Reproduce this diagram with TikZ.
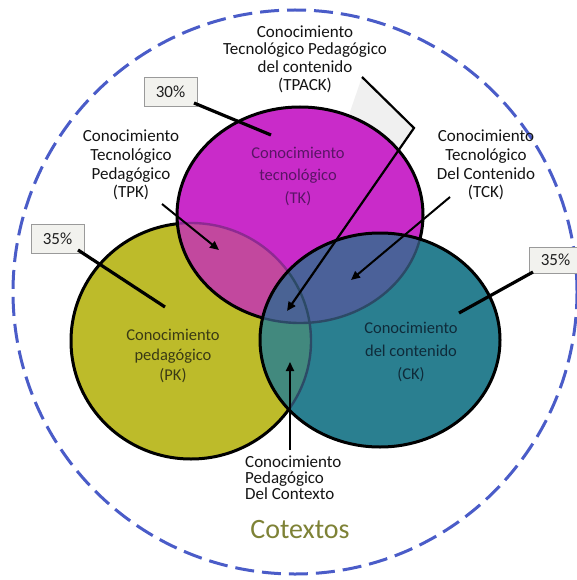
\documentclass[tikz,border=0pt]{standalone}
\usepackage{fontspec}
\setmainfont{Carlito}
\usetikzlibrary{arrows.meta}
\definecolor{tkfill}{HTML}{C92BC9}
\definecolor{pkfill}{HTML}{BDBB2A}
\definecolor{ckfill}{HTML}{2A7F90}
\definecolor{tpkfill}{HTML}{C2489E}
\definecolor{tckfill}{HTML}{4B6199}
\definecolor{pckfill}{HTML}{42897E}
\definecolor{tpckfill}{HTML}{4A6394}
\definecolor{tkedge}{HTML}{8E2A92}
\definecolor{ckedge}{HTML}{2C4A66}
\definecolor{ringblue}{HTML}{4A5CC8}
\definecolor{tktext}{HTML}{5A1466}
\definecolor{pktext}{HTML}{3A3A14}
\definecolor{cktext}{HTML}{0F2B3A}
\definecolor{cotext}{HTML}{7E8236}
\definecolor{pctfill}{HTML}{F2F2EE}
\definecolor{pctline}{HTML}{9A9A9A}
\begin{document}
\begin{tikzpicture}[x=1pt,y=-1pt,
  lbl/.style={align=center, inner sep=0pt, text=black!92},
  circtext/.style={align=center, inner sep=0pt, font=\fontsize{16.5}{22.5}\selectfont},
  pctbox/.style={draw=pctline, line width=0.8pt, fill=pctfill, inner sep=0pt,
    minimum width=53pt, font=\fontsize{17}{18}\selectfont, text=black!88},
  setline/.style={line width=3.2pt, black},
  pointer/.style={line width=2pt, black, -{Triangle[length=9pt,width=8pt]}},
  venn/.style={draw=black, line width=3pt},
  inner edge/.style={line width=2.4pt},
  tkset/.style={insert path={(300,215) ellipse [x radius=123pt, y radius=108pt]}},
  pkset/.style={insert path={(191,341) ellipse [x radius=120pt, y radius=118pt]}},
  ckset/.style={insert path={(380,340) ellipse [x radius=120pt, y radius=107pt]}}]
\path[use as bounding box, fill=white] (0,0) rectangle (577,580);

% outer context ring
\draw[ringblue, line width=3pt, dash pattern=on 19pt off 8pt] (295,292) circle [radius=282pt];

% light callout wedge behind the TPACK leader
\fill[black!6] (362,77) -- (414,128) -- (397,151) -- (352,140) -- (350,112) -- cycle;

% pedagogical set
\fill[pkfill, pkset];
\draw[venn, pkset];

% technological set, with its overlap on PK
\fill[tkfill, tkset];
\begin{scope}
  \clip[tkset];
  \fill[tpkfill, pkset];
  \draw[tkedge, inner edge, pkset];
\end{scope}
\draw[venn, tkset];

% content set, with its overlaps on TK and PK
\fill[ckfill, ckset];
\begin{scope}
  \clip[ckset];
  \fill[tckfill, tkset];
  \fill[pckfill, pkset];
  \begin{scope}
    \clip[tkset];
    \fill[tpckfill, pkset];
  \end{scope}
  \draw[ckedge, inner edge, tkset];
  \draw[ckedge, inner edge, pkset];
\end{scope}
\draw[venn, ckset];

% set names
\node[circtext, text=tktext] (tk) at (298,176) {Conocimiento\\tecnológico\\(TK)};
\node[circtext, text=pktext, font=\fontsize{16.5}{20}\selectfont] (pk) at (173,356) {Conocimiento\\pedagógico\\(PK)};
\node[circtext, text=cktext, font=\fontsize{16.5}{23}\selectfont] (ck) at (411,352) {Conocimiento\\del contenido\\(CK)};

% outside labels
\node[lbl, font=\fontsize{17}{17.6}\selectfont] (tpack) at (305,59) {Conocimiento\\Tecnológico Pedagógico\\del contenido\\(TPACK)};
\node[lbl, font=\fontsize{17}{18.7}\selectfont] (tpk) at (131,165) {Conocimiento\\Tecnológico\\Pedagógico\\(TPK)};
\node[lbl, font=\fontsize{17}{18.7}\selectfont] (tck) at (486,165) {Conocimiento\\Tecnológico\\Del Contenido\\(TCK)};
\node[lbl, align=left, anchor=west, font=\fontsize{17}{16}\selectfont] (pck) at (245,478) {Conocimiento\\Pedagógico\\Del Contexto};
\node[inner sep=0pt, text=cotext, font=\fontsize{28}{30}\selectfont] (cotextos) at (300,530) {Cotextos};

% share boxes
\node[pctbox, minimum height=29pt] (p30) at (170.5,91.5) {30\%};
\node[pctbox, minimum height=29pt] (p35a) at (57.5,238.5) {35\%};
\node[pctbox, minimum height=26pt] (p35b) at (555.5,260) {35\%};

% leader endpoints
\coordinate (p30e) at (194,103);
\coordinate (tkin) at (271,135);
\coordinate (p35ae) at (78,250);
\coordinate (pkin) at (165,307);
\coordinate (p35be) at (533,272);
\coordinate (ckin) at (459,313);
\coordinate (tpks) at (162,204);
\coordinate (tpkin) at (219,250);
\coordinate (tcks) at (450,197);
\coordinate (tckin) at (351,280);
\coordinate (tpacks) at (362,77);
\coordinate (tpackb) at (414,128);
\coordinate (tpackin) at (287,311);
\coordinate (pcks) at (290,450);
\coordinate (pckin) at (290,362);

\draw[setline] (p30e) -- (tkin);
\draw[setline] (p35ae) -- (pkin);
\draw[setline] (p35be) -- (ckin);

\draw[pointer] (tpks) -- (tpkin);
\draw[pointer] (tcks) -- (tckin);
\draw[pointer, line width=2.2pt] (tpacks) -- (tpackb) -- (tpackin);
\draw[pointer] (pcks) -- (pckin);
\end{tikzpicture}
\end{document}
